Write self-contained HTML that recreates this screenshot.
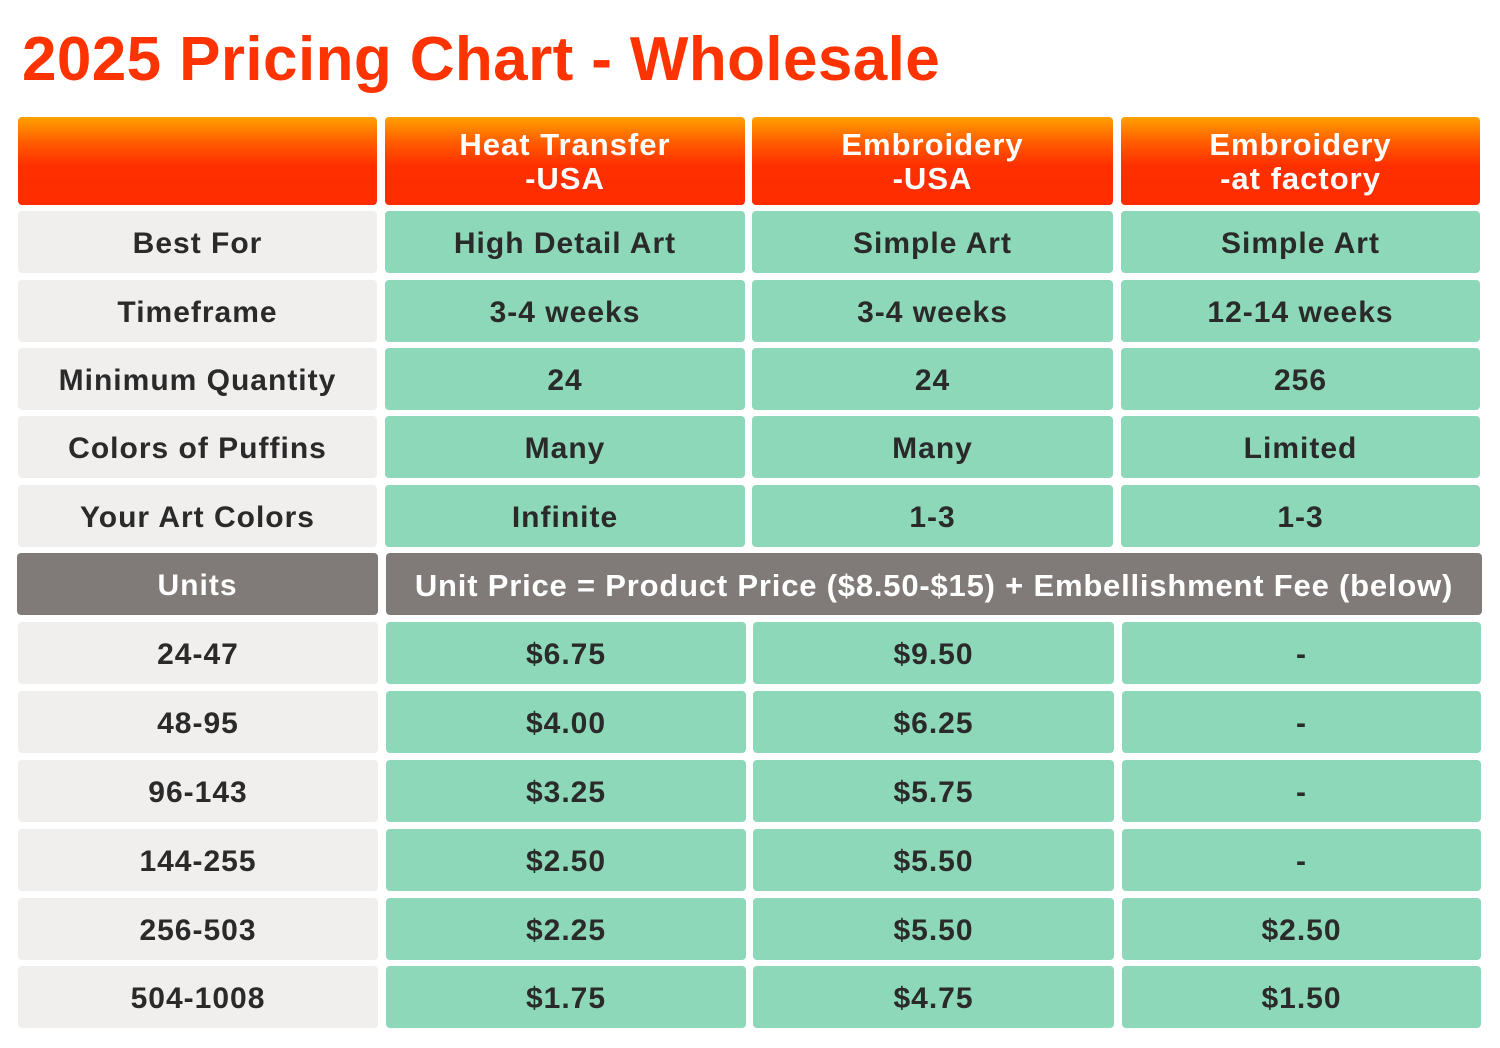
<!DOCTYPE html>
<html><head><style>
body{margin:0;width:1500px;height:1048px;background:#fff;position:relative;font-family:"Liberation Sans",sans-serif;font-weight:bold;overflow:hidden}
.t{position:absolute;left:22px;top:24px;font-size:62px;color:#ff3300;letter-spacing:0.4px;white-space:nowrap}
.c{position:absolute;display:flex;align-items:center;justify-content:center;text-align:center;border-radius:4px;font-size:30px;color:#2a2a2a;white-space:nowrap;letter-spacing:1px;padding-top:4px;box-sizing:border-box}
.h{background:linear-gradient(#ffa000 0%,#ff5a00 30%,#ff3000 55%,#ff2c00 100%);color:#fff;line-height:34px;font-size:31px;padding-top:2px}
.l{background:#f0efee}
.g{background:#8dd8b8}
.d{background:#807a78;color:#fff}
</style></head><body>
<div class="t">2025 Pricing Chart - Wholesale</div>
<div class="c h" style="left:18px;top:117px;width:359px;height:88px"></div>
<div class="c h" style="left:385px;top:117px;width:360px;height:88px">Heat Transfer<br>-USA</div>
<div class="c h" style="left:752px;top:117px;width:361px;height:88px">Embroidery<br>-USA</div>
<div class="c h" style="left:1121px;top:117px;width:359px;height:88px">Embroidery<br>-at factory</div>

<div class="c l" style="left:18px;top:211px;width:359px;height:62px">Best For</div>
<div class="c g" style="left:385px;top:211px;width:360px;height:62px">High Detail Art</div>
<div class="c g" style="left:752px;top:211px;width:361px;height:62px">Simple Art</div>
<div class="c g" style="left:1121px;top:211px;width:359px;height:62px">Simple Art</div>

<div class="c l" style="left:18px;top:280px;width:359px;height:62px">Timeframe</div>
<div class="c g" style="left:385px;top:280px;width:360px;height:62px">3-4 weeks</div>
<div class="c g" style="left:752px;top:280px;width:361px;height:62px">3-4 weeks</div>
<div class="c g" style="left:1121px;top:280px;width:359px;height:62px">12-14 weeks</div>

<div class="c l" style="left:18px;top:348px;width:359px;height:62px">Minimum Quantity</div>
<div class="c g" style="left:385px;top:348px;width:360px;height:62px">24</div>
<div class="c g" style="left:752px;top:348px;width:361px;height:62px">24</div>
<div class="c g" style="left:1121px;top:348px;width:359px;height:62px">256</div>

<div class="c l" style="left:18px;top:416px;width:359px;height:62px">Colors of Puffins</div>
<div class="c g" style="left:385px;top:416px;width:360px;height:62px">Many</div>
<div class="c g" style="left:752px;top:416px;width:361px;height:62px">Many</div>
<div class="c g" style="left:1121px;top:416px;width:359px;height:62px">Limited</div>

<div class="c l" style="left:18px;top:485px;width:359px;height:62px">Your Art Colors</div>
<div class="c g" style="left:385px;top:485px;width:360px;height:62px">Infinite</div>
<div class="c g" style="left:752px;top:485px;width:361px;height:62px">1-3</div>
<div class="c g" style="left:1121px;top:485px;width:359px;height:62px">1-3</div>

<div class="c d" style="left:17px;top:553px;width:361px;height:62px">Units</div>
<div class="c d" style="left:386px;top:553px;width:1096px;height:62px;font-size:31px;letter-spacing:0.8px">Unit Price = Product Price ($8.50-$15) + Embellishment Fee (below)</div>

<div class="c l" style="left:18px;top:622px;width:360px;height:62px">24-47</div>
<div class="c g" style="left:386px;top:622px;width:360px;height:62px">$6.75</div>
<div class="c g" style="left:753px;top:622px;width:361px;height:62px">$9.50</div>
<div class="c g" style="left:1122px;top:622px;width:359px;height:62px">-</div>

<div class="c l" style="left:18px;top:691px;width:360px;height:62px">48-95</div>
<div class="c g" style="left:386px;top:691px;width:360px;height:62px">$4.00</div>
<div class="c g" style="left:753px;top:691px;width:361px;height:62px">$6.25</div>
<div class="c g" style="left:1122px;top:691px;width:359px;height:62px">-</div>

<div class="c l" style="left:18px;top:760px;width:360px;height:62px">96-143</div>
<div class="c g" style="left:386px;top:760px;width:360px;height:62px">$3.25</div>
<div class="c g" style="left:753px;top:760px;width:361px;height:62px">$5.75</div>
<div class="c g" style="left:1122px;top:760px;width:359px;height:62px">-</div>

<div class="c l" style="left:18px;top:829px;width:360px;height:62px">144-255</div>
<div class="c g" style="left:386px;top:829px;width:360px;height:62px">$2.50</div>
<div class="c g" style="left:753px;top:829px;width:361px;height:62px">$5.50</div>
<div class="c g" style="left:1122px;top:829px;width:359px;height:62px">-</div>

<div class="c l" style="left:18px;top:898px;width:360px;height:62px">256-503</div>
<div class="c g" style="left:386px;top:898px;width:360px;height:62px">$2.25</div>
<div class="c g" style="left:753px;top:898px;width:361px;height:62px">$5.50</div>
<div class="c g" style="left:1122px;top:898px;width:359px;height:62px">$2.50</div>

<div class="c l" style="left:18px;top:966px;width:360px;height:62px">504-1008</div>
<div class="c g" style="left:386px;top:966px;width:360px;height:62px">$1.75</div>
<div class="c g" style="left:753px;top:966px;width:361px;height:62px">$4.75</div>
<div class="c g" style="left:1122px;top:966px;width:359px;height:62px">$1.50</div>
</body></html>
